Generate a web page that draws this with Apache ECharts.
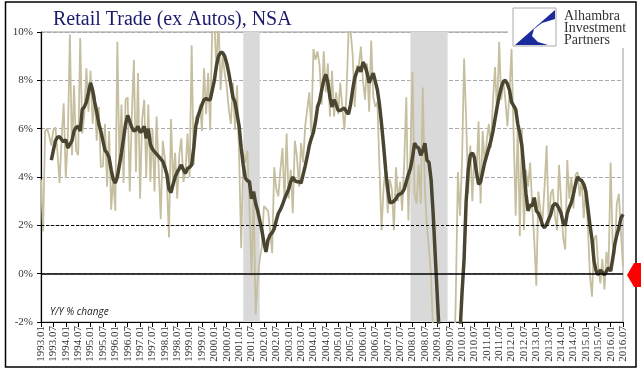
<!DOCTYPE html>
<html>
<head>
<meta charset="utf-8">
<script src="https://cdn.jsdelivr.net/npm/echarts@6/dist/echarts.min.js"></script>
<style>
  html, body { margin: 0; padding: 0; background: #fff; }
  #chart { width: 641px; height: 375px; }
</style>
</head>
<body>
<div id="chart"></div>
<script>
// Monthly categories 1993.01 .. 2016.07
const months = [];
for (let y = 1993; y <= 2016; y++) {
    for (let m = 1; m <= 12; m++) {
        if (y === 2016 && m > 7) break;
        months.push(y + '.' + (m < 10 ? '0' + m : m));
    }
}

// Y/Y % change, monthly (light line)
const yoy = [
    3.9, 1.75, 5.9, 6.0, 5.7, 5.3, 5.95, 6.05, 5.0, 3.75, 5.6, 7.05,
    3.95, 5.6, 9.9, 4.9, 7.8, 5.1, 4.9, 9.75, 5.8, 6.6, 8.5, 6.7,
    8.4, 6.2, 7.4, 5.5, 6.9, 4.4, 4.45, 6.2, 3.6, 5.9, 2.65, 4.0,
    2.6, 9.6, 4.5, 7.0, 3.75, 7.2, 7.3, 3.4, 6.5, 8.85, 4.2, 8.3,
    3.1, 6.4, 7.2, 4.0, 7.0, 3.8, 6.0, 3.4, 6.5, 4.4, 2.25, 5.5,
    4.8, 3.8, 1.5, 6.4, 3.7, 5.0, 3.1, 4.9, 5.6, 3.8, 4.2, 5.8,
    4.0, 9.45, 4.5, 6.5, 6.2, 7.0, 5.9, 8.5, 6.6, 8.3, 5.95, 10.4,
    10.5, 8.4, 10.6, 7.6, 9.05, 8.3, 7.75, 6.8, 6.2, 7.9, 5.95, 7.8,
    4.85, 1.05, 5.0, 4.6, 5.1, 2.8, -0.1, 3.3, -1.7, -0.25, 0.6, 1.1,
    2.8, 2.7, 2.6, 1.8, 0.85, 4.4, 3.5, 3.2, 4.3, 5.2, 3.0, 5.8,
    3.1, 4.3, 2.5, 5.5, 4.85, 3.6, 5.4, 4.6, 6.1, 6.8, 7.5, 5.8,
    9.3, 8.85, 9.2, 8.6, 7.0, 9.2, 7.5, 8.7, 6.5, 8.4, 6.5, 7.5,
    6.6, 7.9, 6.9, 5.95, 7.4, 10.0, 10.0, 9.1, 6.9, 8.6, 8.6, 9.4,
    8.0, 7.2, 8.7, 6.7, 9.65, 7.3, 6.9, 7.1, 4.4, 1.8, 3.6, 4.3,
    2.5, 3.9, 3.5, 1.8, 4.4, 3.0, 3.8, 2.6, 4.6, 7.3, 2.2, 5.0,
    8.35, 3.3, 2.9, 4.5, 2.9, 7.7, 3.5, 1.95, 1.0, -0.1, -2.5, -5.0,
    -7.5, -9.0, -10.0, -9.5, -8.5, -9.0, -7.5, -6.0, -4.5, -0.9, 4.2, 2.4,
    4.6, 8.9, 6.4, 3.3, 5.3, 3.0, 5.0, 4.0, 6.3, 2.9, 5.9, 4.5,
    5.5, 6.2, 5.2, 7.2, 8.55, 6.6, 9.6, 7.2, 8.0, 7.2, 6.1, 7.5,
    9.3, 5.8, 2.4, 6.2, 1.55, 6.0, 1.8, 4.3, 3.6, 4.6, 2.8, 1.4,
    -0.5, 3.4, 2.6, 2.2, 3.6, 5.3, 2.0, 3.3, 3.5, 2.4, 1.8, 4.5,
    3.0, 1.5, 1.0, 4.7, 3.1, 4.0, 2.7, 4.1, 4.2, 3.2, 3.9, 2.3,
    3.6, 1.9, -0.1, -0.95, 1.4, 1.6, 0.3, -0.4, 0.6, -0.65, 0.9, 0.2,
    4.6, 1.2, 0.8, 2.9, 3.3, 1.7, 0.3
];

// smoothed Y/Y (dark line)
const smoothed = [
    null, null, null, null, null, 4.7, 5.1, 5.5, 5.65, 5.67, 5.55, 5.45,
    5.55, 5.2, 5.35, 5.5, 5.9, 6.05, 6.1, 5.9, 6.8, 6.9, 7.1, 7.5,
    7.9, 7.6, 7.1, 6.7, 6.2, 5.9, 5.5, 5.1, 5.0, 4.8, 4.3, 3.9,
    3.75, 4.0, 4.5, 5.0, 5.6, 6.2, 6.55, 6.3, 6.05, 5.9, 5.95, 6.1,
    5.85, 5.9, 6.1, 5.6, 6.0, 5.35, 5.15, 5.05, 4.95, 4.85, 4.75, 4.65,
    4.4, 4.1, 3.5, 3.35, 3.7, 4.0, 4.2, 4.35, 4.5, 4.3, 4.15, 4.35,
    4.4, 4.5, 5.2, 6.1, 6.5, 6.75, 7.0, 7.2, 7.25, 7.2, 7.2, 7.6,
    8.0, 8.6, 9.0, 9.15, 9.15, 9.0, 8.7, 8.3, 7.8, 7.3, 7.1, 6.6,
    6.1, 5.2, 4.5, 3.95, 3.85, 3.8, 3.1, 3.4, 2.9, 2.6, 2.2, 1.8,
    1.3, 0.9, 1.4, 1.6, 1.7, 1.85, 2.2, 2.5, 2.65, 2.85, 3.1, 3.3,
    3.5, 3.8, 4.0, 3.85, 3.8, 3.8, 3.75, 4.1, 4.45, 4.85, 5.3, 5.6,
    5.85, 6.3, 6.9, 7.15, 7.6, 8.0, 8.25, 7.9, 7.3, 6.9, 7.2, 7.0,
    6.75, 6.75, 6.8, 6.85, 6.7, 6.6, 7.0, 7.6, 8.1, 8.35, 8.55, 8.35,
    8.75, 8.6, 8.3, 7.9, 8.1, 8.3, 7.95, 7.6, 7.0, 6.2, 5.3, 4.3,
    3.5, 2.95, 2.95, 3.0, 3.1, 3.25, 3.3, 3.35, 3.5, 3.8, 4.1, 4.35,
    4.8, 5.4, 5.25, 5.2, 4.9, 5.1, 5.4, 4.7, 4.6, 3.9, 2.5, 0.8,
    -0.9, -2.6, -4.2, -5.6, -6.8, -7.5, -7.8, -7.5, -6.8, -5.6, -4.2, -2.5,
    -0.8, 0.6, 3.0, 4.3, 4.9, 5.0, 4.8, 4.2, 3.7, 3.8, 4.2, 4.6,
    4.9, 5.2, 5.5, 5.9, 6.4, 6.9, 7.35, 7.7, 7.95, 8.0, 7.85, 7.6,
    7.1, 6.95, 6.8, 6.2, 5.8, 5.3, 4.3, 3.3, 2.6, 2.85, 2.8, 3.15,
    2.6, 2.5, 2.3, 2.0, 1.9, 2.05, 2.25, 2.45, 2.8, 2.9, 2.85, 2.7,
    2.5, 2.1, 2.0, 2.5, 2.75, 2.95, 3.3, 3.7, 4.0, 3.9, 3.85, 3.7,
    3.4, 2.7, 2.0, 1.4, 0.5, 0.1, -0.05, 0.15, 0.05, -0.05, 0.1, 0.25,
    0.1, 0.6, 1.2, 1.6, 1.9, 2.3, 2.45
];

// recession periods (shaded)
const recessions = [['2001.03', '2001.11'], ['2007.12', '2009.06']];

const chart = echarts.init(document.getElementById('chart'));

const serif = "'Liberation Serif', 'DejaVu Serif', serif";

const option = {
    animation: false,
    backgroundColor: '#fff',
    title: {
        text: 'Retail Trade (ex Autos), NSA',
        left: 48,
        top: 5,
        textStyle: { fontFamily: serif, fontSize: 20, fontWeight: 'normal', color: '#1b1b6b' }
    },
    grid: {
        left: 41, right: 18, top: 32, bottom: 53,
        show: true, borderColor: '#999', borderWidth: 1
    },
    xAxis: {
        type: 'category',
        data: months,
        boundaryGap: false,
        axisLine: { onZero: false, lineStyle: { color: '#000', width: 1.2 } },
        axisTick: { interval: 5, length: 5, lineStyle: { color: '#000' } },
        axisLabel: {
            interval: 5, rotate: 90, margin: 4,
            fontFamily: serif, fontSize: 11, color: '#333'
        },
        splitLine: { show: false }
    },
    yAxis: {
        type: 'value',
        min: -2, max: 10, interval: 2,
        axisLine: { show: true, lineStyle: { color: '#000', width: 1.2 } },
        axisTick: { show: true, length: 4, lineStyle: { color: '#000' } },
        axisLabel: {
            formatter: '{value}%', margin: 8,
            fontFamily: serif, fontSize: 11, color: '#333'
        },
        splitLine: { show: true, lineStyle: { color: '#aaa', type: 'dashed', width: 1 } }
    },
    series: [
        {
            name: 'Y/Y',
            type: 'line',
            data: yoy,
            symbol: 'none',
            z: 2,
            lineStyle: { color: '#c6bf9f', width: 1.8 },
            markArea: {
                silent: true,
                itemStyle: { color: '#d9d9d9' },
                data: recessions.map(r => [{ xAxis: r[0] }, { xAxis: r[1] }])
            }
        },
        {
            name: 'Smoothed',
            type: 'line',
            data: smoothed,
            symbol: 'none',
            z: 3,
            lineStyle: { color: '#4a4530', width: 3.5 },
            markLine: {
                silent: true,
                symbol: 'none',
                label: { show: false },
                data: [
                    { yAxis: 2, lineStyle: { color: '#000', type: [3, 2], width: 1.2 } },
                    { yAxis: 0, lineStyle: { color: '#000', type: 'solid', width: 1.5 } }
                ]
            }
        }
    ],
    graphic: [
        // logo area
        { type: 'rect', z: 100, shape: { x: 508, y: 4, width: 125, height: 44 }, style: { fill: '#fff' } },
        { type: 'rect', z: 101, shape: { x: 513, y: 8, width: 43, height: 38 }, style: { fill: '#fff', stroke: '#aaa', lineWidth: 1 } },
        {
            type: 'polygon', z: 102,
            shape: { points: [[555, 10], [515, 45], [548, 45], [538, 42], [532, 36], [534, 29], [542, 23], [555, 19]] },
            style: { fill: '#1b2b9c' }
        },
        {
            type: 'text', z: 102, left: 564, top: 9,
            style: { text: 'Alhambra\nInvestment\nPartners', font: "14px 'Liberation Serif', serif", lineHeight: 12, fill: '#333' }
        },
        // note
        {
            type: 'text', z: 100, left: 50, top: 307,
            style: { text: 'Y/Y % change', font: "italic 10px 'Open Sans', sans-serif", fill: '#222' }
        },
        // red arrow
        { type: 'polygon', z: 110, shape: { points: [[627, 275], [634, 263], [641, 263], [641, 287], [634, 287]] }, style: { fill: '#ff0000' } },
        // outer frame
        { type: 'rect', z: 105, shape: { x: 5.5, y: 2, width: 630.5, height: 365 }, style: { fill: 'none', stroke: '#000', lineWidth: 1.5 } }
    ]
};

chart.setOption(option);
window.addEventListener('resize', () => chart.resize());
</script>
</body>
</html>
